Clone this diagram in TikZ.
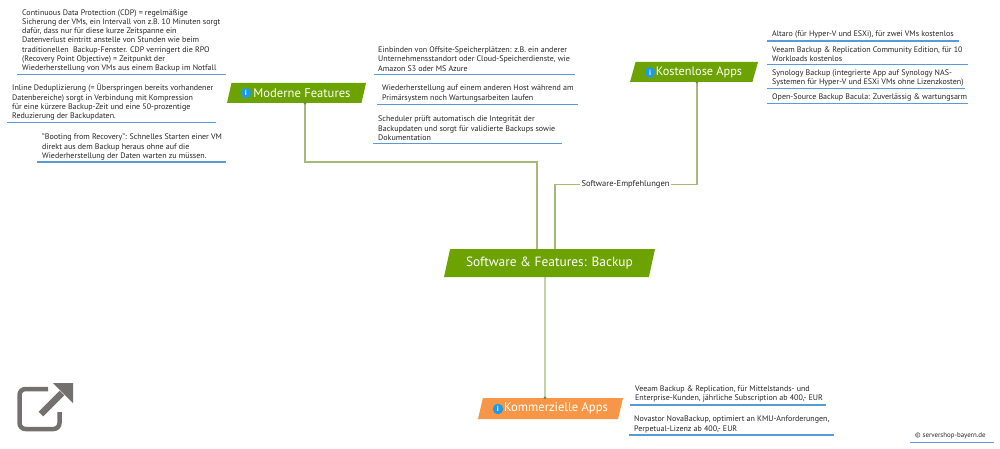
\documentclass[tikz,border=0pt]{standalone}
\usepackage{fontspec}
\setmainfont{PT Sans}
\usetikzlibrary{shapes.geometric}
\definecolor{gr}{HTML}{6CA300}
\definecolor{org}{HTML}{F79646}
\definecolor{conn}{HTML}{A3BA78}
\definecolor{ul}{HTML}{5B9BD5}
\definecolor{ink}{HTML}{262626}
\definecolor{ico}{HTML}{757070}
\definecolor{ib}{HTML}{1E9BE8}
\tikzset{
  x=1pt,y=-1pt,
  note/.style={anchor=west,inner sep=0pt,align=left,text=ink,font=\fontsize{8}{9.25}\selectfont},
  uline/.style={draw=ul,line width=1.2pt},
  topic/.style={trapezium,trapezium stretches body,inner sep=0pt,text=white,draw=none},
  infoicon/.style={circle,fill=ib,inner sep=0pt,minimum size=10.5pt,text=white,font=\fontsize{7.5}{7.5}\bfseries\selectfont},
  connector/.style={draw=conn,line width=1.3pt},
  knot/.style={circle,fill=conn!70!black,inner sep=0pt,minimum size=3pt}
}
\begin{document}
\begin{tikzpicture}
\useasboundingbox (0,0) rectangle (1000,449);
\fill[white] (0,0) rectangle (1000,449);
% topics
\node[topic,fill=gr,minimum width=211pt,minimum height=28pt,trapezium left angle=63.4,trapezium right angle=116.6,font=\fontsize{13.4}{15}\selectfont] (main) at (549.5,263) {Software \& Features: Backup};
\node[topic,fill=gr,minimum width=139pt,minimum height=20pt,trapezium left angle=63.4,trapezium right angle=116.6,font=\fontsize{12.6}{14}\selectfont] (mod) at (296.5,93) {\hspace{11pt}Moderne Features};
\node[topic,fill=gr,minimum width=128pt,minimum height=20pt,trapezium left angle=63.4,trapezium right angle=116.6,font=\fontsize{12.3}{14}\selectfont] (kost) at (694,72) {\hspace{10pt}Kostenlose Apps};
\node[topic,fill=org,minimum width=145pt,minimum height=21pt,trapezium left angle=66.8,trapezium right angle=113.2,font=\fontsize{12.6}{14}\selectfont] (komm) at (550.5,408.5) {\hspace{11pt}Kommerzielle Apps};
\node[infoicon] (imod) at (246,93) {i};
\node[infoicon] (ikost) at (650,72.5) {i};
\node[infoicon] (ikomm) at (498,409) {i};
% connectors
\coordinate (mbend) at (537,162);
\node[fill=white,inner sep=1pt,text=ink,font=\fontsize{8.5}{9}\selectfont] (lbl) at (625.5,184.5) {Software-Empfehlungen};
\draw[connector] ([xshift=8.5pt]mod.south) |- (mbend) -- (mbend |- main.north);
\draw[connector] ([xshift=5.5pt]main.north) |- (lbl.west);
\draw[connector] (lbl.east) -| ([xshift=3pt]kost.south);
\draw[connector] ([xshift=-4.5pt]main.south) -- ([xshift=-5.5pt]komm.north);
\node[knot] (k1) at ([xshift=8.5pt]mod.south) {};
\node[knot] (k2) at ([xshift=3pt]kost.south) {};
\node[knot] (k3) at ([xshift=-5.5pt]komm.north) {};
% left notes
\node[note] (n1) at (22,40.8) {Continuous Data Protection (CDP) = regelmäßige\\Sicherung der VMs, ein Intervall von z.B. 10 Minuten sorgt\\dafür, dass nur für diese kurze Zeitspanne ein\\Datenverlust eintritt anstelle von Stunden wie beim\\traditionellen\ \ Backup-Fenster. CDP verringert die RPO\\(Recovery Point Objective) = Zeitpunkt der\\Wiederherstellung von VMs aus einem Backup im Notfall};
\draw[uline] (17,74.5) -- (226,74.5);
\node[note] (n2) at (12,102.3) {Inline Deduplizierung (= Überspringen bereits vorhandener\\Datenbereiche) sorgt in Verbindung mit Kompression\\für eine kürzere Backup-Zeit und eine 50-prozentige\\Reduzierung der Backupdaten.};
\draw[uline] (7,122.7) -- (216,122.7);
\node[note] (n3) at (42,147) {"Booting from Recovery": Schnelles Starten einer VM\\direkt aus dem Backup heraus ohne auf die\\Wiederherstellung der Daten warten zu müssen.};
\draw[uline] (37,162) -- (226,162);
% middle notes
\node[note] (n4) at (378,59) {Einbinden von Offsite-Speicherplätzen: z.B. ein anderer\\Unternehmensstandort oder Cloud-Speicherdienste, wie\\Amazon S3 oder MS Azure};
\draw[uline] (374,74.5) -- (575,74.5);
\node[note] (n5) at (382,93.5) {Wiederherstellung auf einem anderen Host während am\\Primärsystem noch Wartungsarbeiten laufen};
\draw[uline] (377,104.5) -- (578,104.5);
\node[note] (n6) at (378,128.3) {Scheduler prüft automatisch die Integrität der\\Backupdaten und sorgt für validierte Backups sowie\\Dokumentation};
\draw[uline] (373,143.5) -- (562,143.5);
% right notes
\node[note] (r1) at (772,35) {Altaro (für Hyper-V und ESXi), für zwei VMs kostenlos};
\draw[uline] (767,41) -- (959,41);
\node[note] (r2) at (772,54) {Veeam Backup \& Replication Community Edition, für 10\\Workloads kostenlos};
\draw[uline] (767,64.5) -- (968,64.5);
\node[note] (r3) at (772,78.2) {Synology Backup (integrierte App auf Synology NAS-\\Systemen für Hyper-V und ESXi VMs ohne Lizenzkosten)};
\draw[uline] (767,88.7) -- (965,88.7);
\node[note] (r4) at (772,97.5) {Open-Source Backup Bacula: Zuverlässig \& wartungsarm};
\draw[uline] (767,103.7) -- (968,103.7);
% bottom notes
\node[note] (b1) at (635,394.3) {Veeam Backup \& Replication, für Mittelstands- und\\Enterprise-Kunden, jährliche Subscription ab 400,- EUR};
\draw[uline] (629.5,405) -- (826,405);
\node[note] (b2) at (634,424.5) {Novastor NovaBackup, optimiert an KMU-Anforderungen,\\Perpetual-Lizenz ab 400,- EUR};
\draw[uline] (629,435) -- (834,435);
\node[note,font=\fontsize{6.9}{8}\selectfont] (c) at (915,435.5) {© servershop-bayern.de};
\draw[uline,line width=.7pt] (910,442) -- (994,442);
% external link icon
\draw[ico,line width=4.5pt,line cap=butt,rounded corners=6pt] (48,389) -- (19.5,389) -- (19.5,429) -- (59.5,429) -- (59.5,412);
\draw[ico,line width=6.5pt] (41,414) -- (62,393);
\fill[ico] (53,383) -- (73,383) -- (73,403) -- cycle;
\end{tikzpicture}
\end{document}
